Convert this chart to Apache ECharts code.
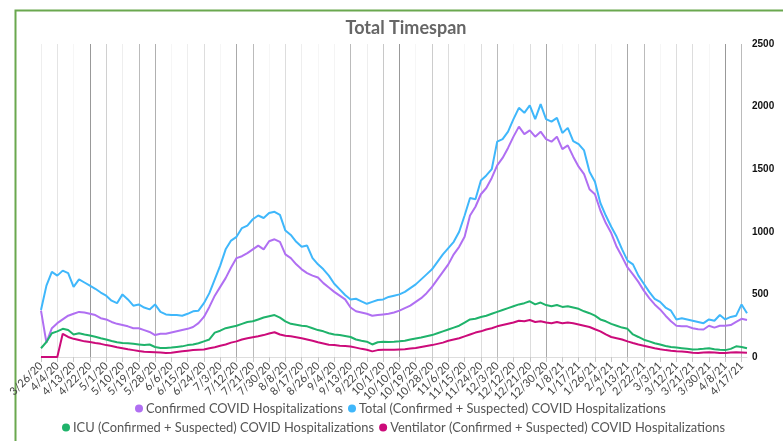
<!DOCTYPE html>
<html>
<head>
<meta charset="utf-8">
<script src="https://cdn.jsdelivr.net/npm/echarts@6/dist/echarts.min.js"></script>
<style>
html,body{margin:0;padding:0;background:#fff;}
#chart{width:783px;height:441px;}
</style>
</head>
<body>
<div id="chart"></div>
<script>
// Dates sampled every 3 days (3/26/20 .. 4/20/21)
const dates = [
"3/26/20","3/29/20","4/1/20","4/4/20","4/7/20","4/10/20","4/13/20","4/16/20","4/19/20","4/22/20",
"4/25/20","4/28/20","5/1/20","5/4/20","5/7/20","5/10/20","5/13/20","5/16/20","5/19/20","5/22/20",
"5/25/20","5/28/20","5/31/20","6/3/20","6/6/20","6/9/20","6/12/20","6/15/20","6/18/20","6/21/20",
"6/24/20","6/27/20","6/30/20","7/3/20","7/6/20","7/9/20","7/12/20","7/15/20","7/18/20","7/21/20",
"7/24/20","7/27/20","7/30/20","8/2/20","8/5/20","8/8/20","8/11/20","8/14/20","8/17/20","8/20/20",
"8/23/20","8/26/20","8/29/20","9/1/20","9/4/20","9/7/20","9/10/20","9/13/20","9/16/20","9/19/20",
"9/22/20","9/25/20","9/28/20","10/1/20","10/4/20","10/7/20","10/10/20","10/13/20","10/16/20","10/19/20",
"10/22/20","10/25/20","10/28/20","10/31/20","11/3/20","11/6/20","11/9/20","11/12/20","11/15/20","11/18/20",
"11/21/20","11/24/20","11/27/20","11/30/20","12/3/20","12/6/20","12/9/20","12/12/20","12/15/20","12/18/20",
"12/21/20","12/24/20","12/27/20","12/30/20","1/2/21","1/5/21","1/8/21","1/11/21","1/14/21","1/17/21",
"1/20/21","1/23/21","1/26/21","1/29/21","2/1/21","2/4/21","2/7/21","2/10/21","2/13/21","2/16/21",
"2/19/21","2/22/21","2/25/21","2/28/21","3/3/21","3/6/21","3/9/21","3/12/21","3/15/21","3/18/21",
"3/21/21","3/24/21","3/27/21","3/30/21","4/2/21","4/5/21","4/8/21","4/11/21","4/14/21","4/17/21",
"4/20/21"
];

const confirmed = [
370,115,230,270,300,330,345,360,355,345,
335,310,300,280,265,255,245,230,230,215,
200,175,185,185,195,205,215,225,240,270,
320,400,490,560,630,715,790,805,830,860,
890,860,925,940,920,820,790,740,700,670,
650,635,590,555,520,490,460,395,365,355,
345,330,335,340,345,355,370,390,410,440,
470,510,560,620,680,740,820,880,960,1130,
1200,1300,1350,1430,1530,1590,1670,1760,1840,1780,
1810,1760,1800,1740,1720,1760,1660,1690,1600,1520,
1460,1340,1300,1170,1070,990,880,800,715,660,
600,530,470,420,380,330,285,250,245,245,
230,222,220,250,235,250,250,255,280,305,
295
];

const total = [
376,570,680,650,690,670,560,620,595,570,
545,515,490,450,430,500,460,410,420,395,
380,420,360,340,335,335,330,345,365,370,
430,510,620,730,860,930,960,1030,1050,1100,
1130,1110,1150,1160,1135,1010,975,920,880,890,
790,740,700,650,585,540,495,460,465,445,
425,440,455,460,480,490,500,520,550,580,
620,660,700,760,820,870,920,1000,1130,1270,
1260,1410,1450,1500,1720,1740,1800,1900,1990,1950,
2010,1900,2020,1900,1880,1910,1790,1830,1725,1700,
1650,1480,1400,1230,1130,1040,960,860,770,740,
650,585,520,465,440,395,370,300,310,300,
290,280,270,300,290,335,300,320,330,420,
350
];

const icu = [
70,120,190,205,225,215,180,190,180,172,
162,150,140,128,118,112,110,105,100,95,
100,80,72,72,75,80,85,95,100,110,
125,140,195,210,230,240,250,265,280,285,
300,315,325,335,315,285,265,258,250,245,
230,215,205,190,180,175,168,160,140,130,
122,100,118,122,120,122,125,130,140,148,
155,165,175,190,205,220,235,250,275,300,
305,320,330,345,360,375,390,405,420,430,
445,420,435,415,405,415,400,405,395,385,
365,350,330,300,285,265,250,235,225,180,
160,138,125,110,100,88,80,75,70,65,
60,62,65,70,62,58,55,65,85,80,
70
];

const ventilator = [
0,0,0,0,185,160,145,135,125,120,
112,105,95,88,78,70,62,55,48,42,
40,38,35,32,34,40,45,50,55,58,
60,70,78,90,100,115,125,140,150,158,
165,175,188,198,180,170,165,158,150,140,
130,118,108,98,95,90,88,84,75,65,
58,45,55,58,58,58,60,62,68,72,
80,88,95,105,115,130,140,150,165,180,
195,205,220,230,245,255,265,275,290,285,
295,280,285,275,270,280,270,275,270,260,
250,240,222,205,180,160,150,140,125,112,
100,90,80,70,62,55,50,46,44,40,
34,32,35,38,35,32,32,35,38,36,
34
];

const yTicks = [0, 500, 1000, 1500, 2000, 2500];

const seriesNames = [
"Confirmed COVID Hospitalizations",
"Total (Confirmed + Suspected) COVID Hospitalizations",
"ICU (Confirmed + Suspected) COVID Hospitalizations",
"Ventilator (Confirmed + Suspected) COVID Hospitalizations"
];

const gridColors = [
"#eeeeee","#e4e4e4","#f6f6f6","#999999","#d0d0d0","#eeeeee","#bbbbbb","#b0b0b0","#f6f6f6","#eeeeee",
"#dddddd","#f6f6f6","#aaaaaa","#bbbbbb","#f6f6f6","#dddddd","#eeeeee","#f6f6f6","#f4f4f4","#bbbbbb",
"#eeeeee","#c8c8c8","#999999","#f6f6f6","#cccccc","#dddddd","#f6f6f6","#dddddd","#bbbbbb","#f6f6f6",
"#dddddd","#aaaaaa","#f6f6f6","#f0f0f0","#dddddd","#f6f6f6","#aaaaaa","#bbbbbb","#f6f6f6","#dddddd",
"#dddddd","#f6f6f6","#999999","#bbbbbb"
];

const chart = echarts.init(document.getElementById('chart'), null, {renderer: 'canvas'});
const FONT = 'Lato, "Noto Sans", sans-serif';

function mkSeries(name, data, color) {
  return {
    name: name, type: 'line', data: data, symbol: 'none', smooth: false,
    lineStyle: {color: color, width: 2}, itemStyle: {color: color}
  };
}

chart.setOption({
  animation: false,
  backgroundColor: '#ffffff',
  title: {
    text: 'Total Timespan', left: 401, top: 14, textAlign: 'center',
    textStyle: {fontFamily: FONT, fontSize: 18, fontWeight: 'bold', color: '#666666'}
  },
  graphic: [{
    type: 'rect', left: 13, top: 8, silent: true,
    shape: {width: 800, height: 460},
    style: {fill: 'none', stroke: '#6aa84f', lineWidth: 2}
  }],
  legend: [{
    data: [seriesNames[0], seriesNames[1]],
    top: 402, left: 135, icon: 'circle', itemWidth: 8, itemHeight: 8, itemGap: 5,
    padding: 0,
    textStyle: {fontFamily: FONT, fontSize: 12.9, color: '#555555', padding: [0, 0, 0, -2]}
  }, {
    data: [seriesNames[2], seriesNames[3]],
    top: 421, left: 62, icon: 'circle', itemWidth: 8, itemHeight: 8, itemGap: 5,
    padding: 0,
    textStyle: {fontFamily: FONT, fontSize: 12.9, color: '#555555', padding: [0, 0, 0, -2]}
  }],
  grid: {left: 41, right: 36, top: 44, bottom: 84, containLabel: false},
  xAxis: {
    type: 'category', data: dates, boundaryGap: false,
    axisLine: {show: true, lineStyle: {color: '#dddddd', width: 1}},
    axisTick: {show: true, interval: 2, length: 5, lineStyle: {color: '#c8c8c8'}},
    axisLabel: {
      interval: 2, rotate: 45, margin: 7,
      fontFamily: FONT, fontSize: 11, color: '#444444'
    },
    splitLine: {show: true, interval: 2, lineStyle: {color: gridColors, width: 1}}
  },
  yAxis: {
    type: 'value', position: 'right', min: yTicks[0], max: yTicks[yTicks.length - 1], interval: 500,
    axisLine: {show: false}, axisTick: {show: false},
    splitLine: {show: false},
    axisLabel: {
      margin: 5, fontFamily: 'Arial, "Liberation Sans", sans-serif', fontSize: 10, fontWeight: 'bold', color: '#111111',
      formatter: function (v) { return String(v); }
    }
  },
  series: [
    mkSeries(seriesNames[0], confirmed, '#b06ff2'),
    mkSeries(seriesNames[1], total, '#3fb7fb'),
    mkSeries(seriesNames[2], icu, '#1fb36b'),
    mkSeries(seriesNames[3], ventilator, '#cc0b7a')
  ]
});
</script>
</body>
</html>
